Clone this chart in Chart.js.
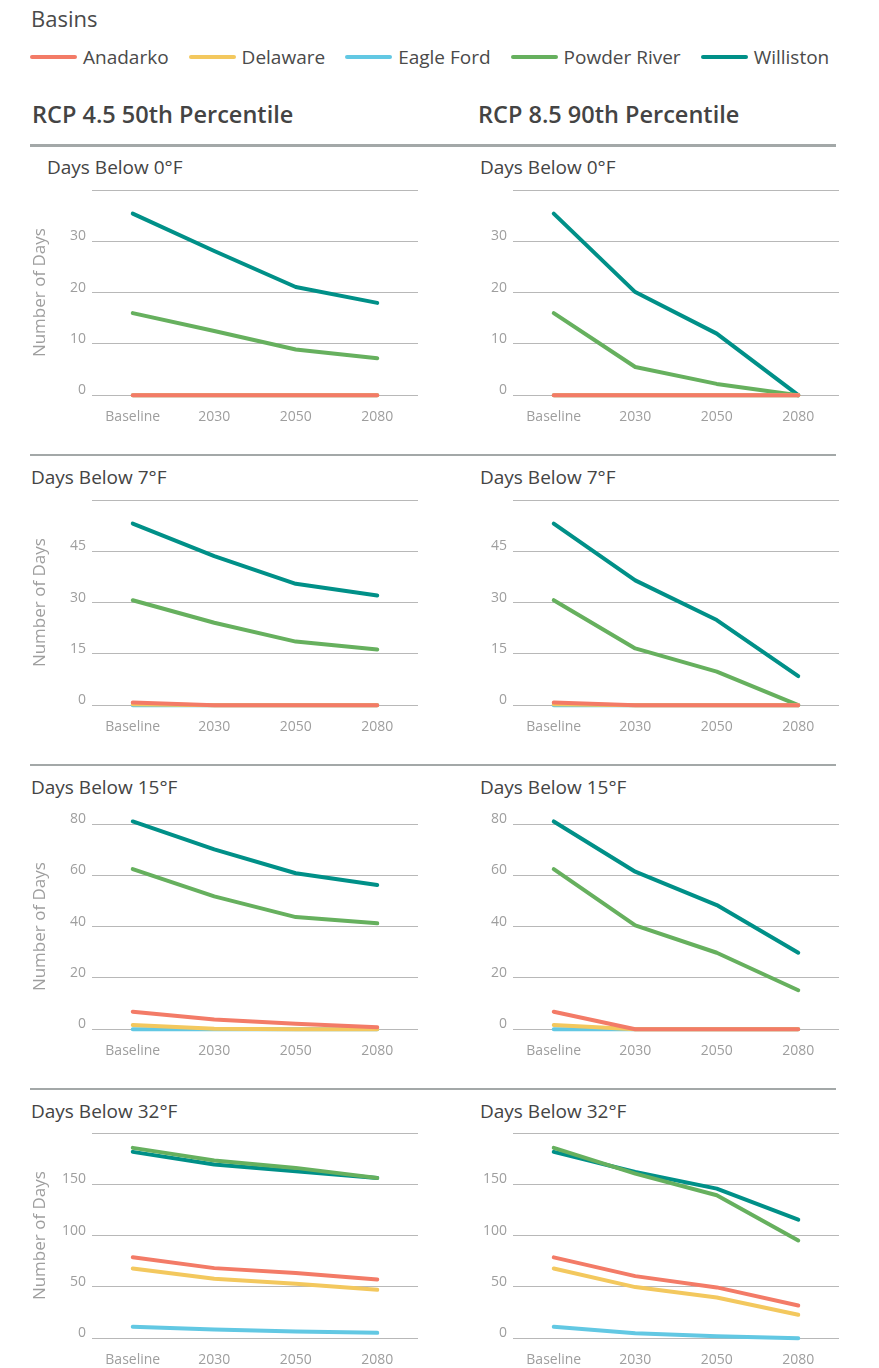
<!DOCTYPE html>
<html>
<head>
<meta charset="utf-8">
<script src="https://cdn.jsdelivr.net/npm/chart.js@4.4.0/dist/chart.umd.min.js"></script>
<style>
  body { margin: 0; background: #fff; font-family: "Open Sans", Lato, sans-serif; color: #4a4a4a; }
  #page { position: relative; width: 879px; height: 1368px; overflow: hidden; }
  .abs { position: absolute; white-space: nowrap; }
  #basins { left: 31px; top: 3px; font-size: 22px; }
  #legend { left: 30px; top: 44px; display: flex; align-items: center; font-size: 19px; }
  #legend .item { display: flex; align-items: center; margin-right: 20px; }
  #legend .sw { display: inline-block; width: 47px; height: 4px; border-radius: 2px; margin-right: 6px; }
  .scen { top: 98px; font-size: 23.5px; font-weight: 600; color: #444; }
  .sep { left: 30px; width: 806px; height: 2px; background: #a3a8a8; }
  .ptitle { font-size: 19px; color: #444; }
  canvas { position: absolute; }
</style>
</head>
<body>
<div id="page">
  <div id="basins" class="abs">Basins</div>
  <div id="legend" class="abs"></div>
  <div class="abs scen" style="left:32px">RCP 4.5 50th Percentile</div>
  <div class="abs scen" style="left:478px">RCP 8.5 90th Percentile</div>
</div>
<script>
/* DATOS */
const periods = ["Baseline", "2030", "2050", "2080"];
const basins = ["Anadarko", "Delaware", "Eagle Ford", "Powder River", "Williston"];
const basinColors = ["#f37b67", "#f3c85e", "#62c8e3", "#66b05e", "#009088"];

const thresholds = ["0°F", "7°F", "15°F", "32°F"];
const yMaxes = [40, 60, 80, 200];
const ySteps = [10, 15, 20, 50];
const showTopLabel = [false, false, true, false];

// rows follow basins order: Anadarko, Delaware, Eagle Ford, Powder River, Williston
const rcp45Below0 = [
  [0, 0, 0, 0],
  [0, 0, 0, 0],
  [0, 0, 0, 0],
  [16, 12.5, 8.9, 7.2],
  [35.4, 28.1, 21.1, 18],
];
const rcp85Below0 = [
  [0, 0, 0, 0],
  [0, 0, 0, 0],
  [0, 0, 0, 0],
  [16, 5.5, 2.2, 0],
  [35.4, 20.1, 12, 0],
];
const rcp45Below7 = [
  [0.8, 0, 0, 0],
  [0.3, 0, 0, 0],
  [0, 0, 0, 0],
  [30.7, 24.1, 18.6, 16.3],
  [53.1, 43.6, 35.5, 32.1],
];
const rcp85Below7 = [
  [0.8, 0, 0, 0],
  [0.3, 0, 0, 0],
  [0, 0, 0, 0],
  [30.7, 16.6, 9.8, 0],
  [53.1, 36.5, 24.9, 8.5],
];
const rcp45Below15 = [
  [6.8, 3.8, 2.1, 0.8],
  [1.6, 0.2, 0, 0],
  [0, 0, 0, 0],
  [62.4, 51.8, 43.7, 41.3],
  [81, 70.1, 60.8, 56.2],
];
const rcp85Below15 = [
  [6.8, 0, 0, 0],
  [1.6, 0, 0, 0],
  [0, 0, 0, 0],
  [62.4, 40.5, 29.8, 15.2],
  [81, 61.4, 48.4, 29.8],
];
const rcp45Below32 = [
  [78.8, 68.3, 63.5, 57.3],
  [68, 57.9, 53, 47.2],
  [11.1, 8.5, 6.5, 5.2],
  [185.5, 173.1, 166, 156.2],
  [181.6, 169.2, 162.7, 156.2],
];
const rcp85Below32 = [
  [78.8, 60.5, 49.5, 31.9],
  [68, 49.8, 39.7, 22.8],
  [11.1, 4.9, 2, 0],
  [185.5, 160.4, 139.3, 95.3],
  [181.6, 162, 145.8, 115.5],
];

const rcp45 = [rcp45Below0, rcp45Below7, rcp45Below15, rcp45Below32];
const rcp85 = [rcp85Below0, rcp85Below7, rcp85Below15, rcp85Below32];

/* LAYOUT */
const rowGridTop = [190, 500, 824, 1133];
const rowSepY = [454, 764, 1088];
const rowTitleTop = [154, 464, 774, 1098];
const cols = [
  { left: 26, width: 404, axisWidth: 66, titleLeft: 31, yTitle: true },
  { left: 460, width: 391, axisWidth: 53, titleLeft: 480, yTitle: false },
];

const page = document.getElementById("page");
const tickColor = "#9e9e9e";
const gridColor = "#b8b8b8";

function addDiv(cls, style, text) {
  const d = document.createElement("div");
  d.className = "abs " + cls;
  d.style.cssText = style;
  if (text) d.textContent = text;
  page.appendChild(d);
}

/* LEYENDA */
const legend = document.getElementById("legend");
basins.forEach((b, i) => {
  const item = document.createElement("span");
  item.className = "item";
  item.innerHTML = `<span class="sw" style="background:${basinColors[i]}"></span>${b}`;
  legend.appendChild(item);
});

addDiv("sep", "top:144px;height:3px;");
rowSepY.forEach((y) => addDiv("sep", `top:${y}px;`));

/* PANELES */
function crearPanel(row, colIdx, series) {
  const col = cols[colIdx];
  const titleLeft = row === 0 && colIdx === 0 ? 47 : col.titleLeft;
  addDiv("ptitle", `left:${titleLeft}px;top:${rowTitleTop[row]}px;`, "Days Below " + thresholds[row]);

  const canvas = document.createElement("canvas");
  canvas.width = col.width;
  canvas.height = 267;
  canvas.style.left = col.left + "px";
  canvas.style.top = rowGridTop[row] - 15 + "px";
  page.appendChild(canvas);

  const yMax = yMaxes[row];

  new Chart(canvas, {
    type: "line",
    data: {
      labels: periods,
      datasets: basins.map((b, i) => ({
        label: b,
        data: series[i],
        borderColor: basinColors[i],
        backgroundColor: basinColors[i],
        borderWidth: 4,
        pointRadius: 0,
        tension: 0,
        borderCapStyle: "round",
        borderJoinStyle: "round",
        clip: false,
      })),
    },
    options: {
      responsive: false,
      animation: false,
      layout: { padding: { top: 15, right: 12, bottom: 4, left: 0 } },
      plugins: { legend: { display: false }, tooltip: { enabled: false } },
      scales: {
        x: {
          offset: true,
          grid: { display: false, drawTicks: false },
          border: { display: false },
          ticks: { color: tickColor, padding: 13, font: { family: "Open Sans", size: 14 } },
        },
        y: {
          min: 0,
          max: yMax,
          afterFit: (scale) => {
            scale.width = col.axisWidth;
          },
          grid: { color: gridColor, lineWidth: 1, drawTicks: false },
          border: { display: false },
          ticks: {
            stepSize: ySteps[row],
            color: tickColor,
            padding: 6,
            labelOffset: -5,
            font: { family: "Open Sans", size: 14 },
            callback: (v) => (v === yMax && !showTopLabel[row] ? "" : v),
          },
          title: {
            display: col.yTitle,
            text: "Number of Days",
            color: tickColor,
            font: { family: "Open Sans", size: 17 },
            padding: { top: 4, bottom: 0 },
          },
        },
      },
    },
  });
}

rcp45.forEach((s, row) => crearPanel(row, 0, s));
rcp85.forEach((s, row) => crearPanel(row, 1, s));
</script>
</body>
</html>
